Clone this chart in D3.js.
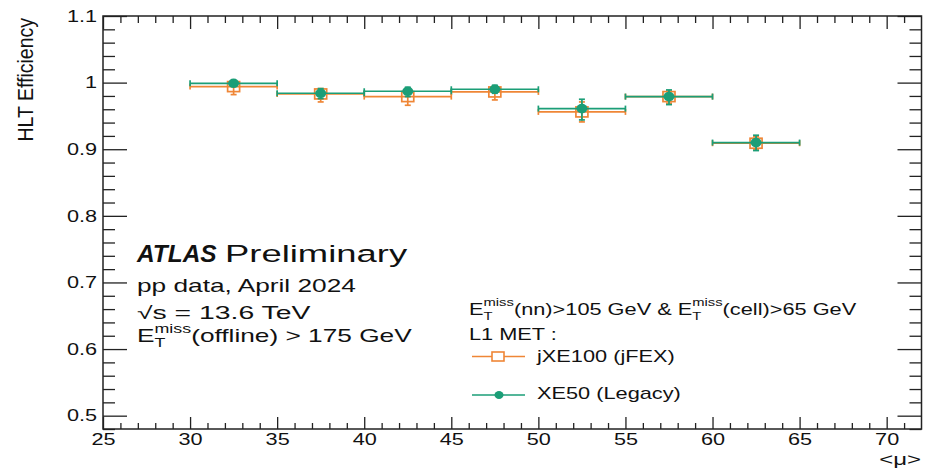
<!DOCTYPE html>
<html>
<head>
<meta charset="utf-8">
<script src="https://cdn.jsdelivr.net/npm/d3@7"></script>
<style>
  html, body { margin: 0; padding: 0; background: #fff; }
  svg { display: block; }
  text { font-family: "Liberation Sans", Arial, Helvetica, sans-serif; fill: #111; white-space: pre; }
</style>
</head>
<body>
<svg id="chart" width="925" height="468"></svg>
<script>
// <mu> bins
const muLow  = [30, 35, 40, 45, 50, 55, 60];
const muHigh = [35, 40, 45, 50, 55, 60, 65];

// HLT efficiency seeded by L1 jXE100 (jFEX)
const jfexEff     = [0.994, 0.983, 0.979, 0.986, 0.956, 0.979, 0.909];
const jfexErrLow  = [0.012, 0.012, 0.013, 0.012, 0.015, 0.010, 0.010];
const jfexErrHigh = [0.006, 0.008, 0.008, 0.008, 0.015, 0.008, 0.010];

// HLT efficiency seeded by L1 XE50 (Legacy)
const legacyEff     = [0.999, 0.984, 0.987, 0.990, 0.961, 0.979, 0.910];
const legacyErrLow  = [0.004, 0.008, 0.008, 0.006, 0.017, 0.012, 0.012];
const legacyErrHigh = [0.001, 0.007, 0.006, 0.006, 0.014, 0.010, 0.011];

// axis ticks
const xTicks = [25, 30, 35, 40, 45, 50, 55, 60, 65, 70];
const yTicks = [0.5, 0.6, 0.7, 0.8, 0.9, 1.0, 1.1];
const xMinor = d3.range(26, 72, 1).filter(v => v % 5 !== 0);
const yMinor = d3.range(24, 56, 1).map(v => +(v * 0.02).toFixed(2)).filter(v => Math.abs(v * 10 - Math.round(v * 10)) > 1e-6);

const colJ = "#ef8636";
const colL = "#1b9e77";

const svg = d3.select("#chart");
const frame = { left: 103, right: 921.5, top: 16, bottom: 429 };

const x = d3.scaleLinear().domain([25, 72]).range([frame.left, frame.right]);
const y = d3.scaleLinear().domain([0.48, 1.1]).range([frame.bottom, frame.top]);

const TICK_SX = 1.33, TICK_FS = 16.3;

// ---- axes (ticks point inwards on all four sides) ----
function styleAxis(g) {
  g.select(".domain").remove();
  g.selectAll(".tick line").attr("stroke", "#222").attr("stroke-width", 1.3);
}
const fmt = d => String(+d.toFixed(1));

svg.append("g").attr("transform", `translate(0,${frame.bottom})`)
  .call(d3.axisBottom(x).tickValues(xMinor).tickSize(-6).tickFormat(""))
  .call(styleAxis);
const gx = svg.append("g").attr("transform", `translate(0,${frame.bottom})`)
  .call(d3.axisBottom(x).tickValues(xTicks).tickSize(-12).tickPadding(4).tickFormat(fmt))
  .call(styleAxis);
gx.selectAll(".tick text")
  .attr("font-size", TICK_FS).attr("font-family", null)
  .attr("dy", "0.71em")
  .attr("transform", `scale(${TICK_SX},1)`);

svg.append("g").attr("transform", `translate(0,${frame.top})`)
  .call(d3.axisTop(x).tickValues(xMinor).tickSize(-7).tickFormat(""))
  .call(styleAxis);
svg.append("g").attr("transform", `translate(0,${frame.top})`)
  .call(d3.axisTop(x).tickValues(xTicks).tickSize(-13).tickFormat(""))
  .call(styleAxis);

svg.append("g").attr("transform", `translate(${frame.left},0)`)
  .call(d3.axisLeft(y).tickValues(yMinor).tickSize(-12).tickFormat(""))
  .call(styleAxis);
const gy = svg.append("g").attr("transform", `translate(${frame.left},0)`)
  .call(d3.axisLeft(y).tickValues(yTicks).tickSize(-24).tickPadding(6).tickFormat(fmt))
  .call(styleAxis);
gy.selectAll(".tick text")
  .attr("font-size", TICK_FS).attr("font-family", null)
  .attr("x", -6 / TICK_SX)
  .attr("transform", `scale(${TICK_SX},1)`);

svg.append("g").attr("transform", `translate(${frame.right},0)`)
  .call(d3.axisRight(y).tickValues(yMinor).tickSize(-12).tickFormat(""))
  .call(styleAxis);
svg.append("g").attr("transform", `translate(${frame.right},0)`)
  .call(d3.axisRight(y).tickValues(yTicks).tickSize(-24).tickFormat(""))
  .call(styleAxis);

svg.append("rect")
  .attr("x", frame.left).attr("y", frame.top)
  .attr("width", frame.right - frame.left).attr("height", frame.bottom - frame.top)
  .attr("fill", "none").attr("stroke", "#222").attr("stroke-width", 1.5);

// ---- axis titles ----
svg.append("text")
  .attr("transform", `translate(33,18) scale(1.1,1) rotate(-90)`)
  .attr("text-anchor", "end")
  .attr("font-size", 19.5)
  .text("HLT Efficiency");

svg.append("g").attr("transform", `translate(921,465) scale(1.5,1)`)
  .append("text").attr("text-anchor", "end").attr("font-size", 16).text("<μ>");

// ---- rich text helper: plain runs plus stacked super/subscripts ----
function richText(X, Y, segs, size, sx) {
  const g = svg.append("g").attr("transform", `translate(${X},${Y}) scale(${sx},1)`);
  let cx = 0;
  segs.forEach(s => {
    if (s.sup !== undefined) {
      const fs = size * 0.68;
      const a = g.append("text").attr("x", cx).attr("y", -size * 0.52).attr("font-size", fs).text(s.sup);
      const b = g.append("text").attr("x", cx).attr("y", size * 0.3).attr("font-size", fs).text(s.sub);
      cx += Math.max(a.node().getComputedTextLength(), b.node().getComputedTextLength());
    } else {
      const t = g.append("text").attr("x", cx).attr("font-size", s.size || size)
        .attr("font-weight", s.bold ? "bold" : null)
        .attr("font-style", s.italic ? "italic" : null)
        .text(s.t);
      cx += t.node().getComputedTextLength();
    }
  });
  return g;
}

// ---- ATLAS label block ----
richText(137, 261.5, [{ t: "ATLAS", bold: true, italic: true }], 23.5, 1.04);
richText(225, 261.5, [{ t: "Preliminary" }], 23.5, 1.55);
richText(137, 292, [{ t: "pp data, April 2024" }], 17.5, 1.5);
richText(137, 319, [{ t: "√s = 13.6 TeV" }], 17.5, 1.62);
richText(137, 342, [{ t: "E" }, { sup: "miss", sub: "T" }, { t: "(offline) > 175 GeV" }], 17.5, 1.5);

// ---- legend ----
const LEG_SX = 1.28;
richText(469, 315, [{ t: "E" }, { sup: "miss", sub: "T" }, { t: "(nn)>105 GeV & E" }, { sup: "miss", sub: "T" }, { t: "(cell)>65 GeV" }], 17, LEG_SX);
richText(469, 340, [{ t: "L1 MET :" }], 17, LEG_SX);
richText(537, 361.5, [{ t: "jXE100 (jFEX)" }], 17, LEG_SX);
richText(537, 398.5, [{ t: "XE50 (Legacy)" }], 17, LEG_SX);

const leg = svg.append("g");
leg.append("line").attr("x1", 472).attr("x2", 525).attr("y1", 356.5).attr("y2", 356.5)
  .attr("stroke", colJ).attr("stroke-width", 1.6);
leg.append("rect").attr("x", 498 - 6).attr("y", 356.5 - 4.5).attr("width", 12).attr("height", 9)
  .attr("fill", "#fff").attr("stroke", colJ).attr("stroke-width", 1.6);
leg.append("line").attr("x1", 472).attr("x2", 525).attr("y1", 395).attr("y2", 395)
  .attr("stroke", colL).attr("stroke-width", 1.6);
leg.append("ellipse").attr("cx", 499).attr("cy", 395).attr("rx", 4.5).attr("ry", 4)
  .attr("fill", colL);

// ---- data: horizontal bin-width bars, vertical error bars with end caps, markers ----
function drawSeries(eff, lo, hi, color, marker) {
  const g = svg.append("g");
  const pts = eff.map((v, i) => ({
    x0: muLow[i], x1: muHigh[i], xc: (muLow[i] + muHigh[i]) / 2,
    v, lo: v - lo[i], hi: v + hi[i]
  }));
  const cap = 3;
  pts.forEach(p => {
    const cy = y(p.v), cx = x(p.xc);
    g.append("line").attr("x1", x(p.x0)).attr("x2", x(p.x1)).attr("y1", cy).attr("y2", cy)
      .attr("stroke", color).attr("stroke-width", 1.7);
    [p.x0, p.x1].forEach(e => g.append("line")
      .attr("x1", x(e)).attr("x2", x(e)).attr("y1", cy - cap).attr("y2", cy + cap)
      .attr("stroke", color).attr("stroke-width", 1.7));
    g.append("line").attr("x1", cx).attr("x2", cx).attr("y1", y(p.lo)).attr("y2", y(p.hi))
      .attr("stroke", color).attr("stroke-width", 1.7);
    [p.lo, p.hi].forEach(e => g.append("line")
      .attr("x1", cx - cap).attr("x2", cx + cap).attr("y1", y(e)).attr("y2", y(e))
      .attr("stroke", color).attr("stroke-width", 1.7));
    if (marker === "square") {
      g.append("rect").attr("x", cx - 6).attr("y", cy - 5).attr("width", 12).attr("height", 10)
        .attr("fill", "none").attr("stroke", color).attr("stroke-width", 1.7);
    } else {
      g.append("ellipse").attr("cx", cx).attr("cy", cy).attr("rx", 5.5).attr("ry", 4.8)
        .attr("fill", color);
    }
  });
}
drawSeries(jfexEff, jfexErrLow, jfexErrHigh, colJ, "square");
drawSeries(legacyEff, legacyErrLow, legacyErrHigh, colL, "circle");
</script>
</body>
</html>
